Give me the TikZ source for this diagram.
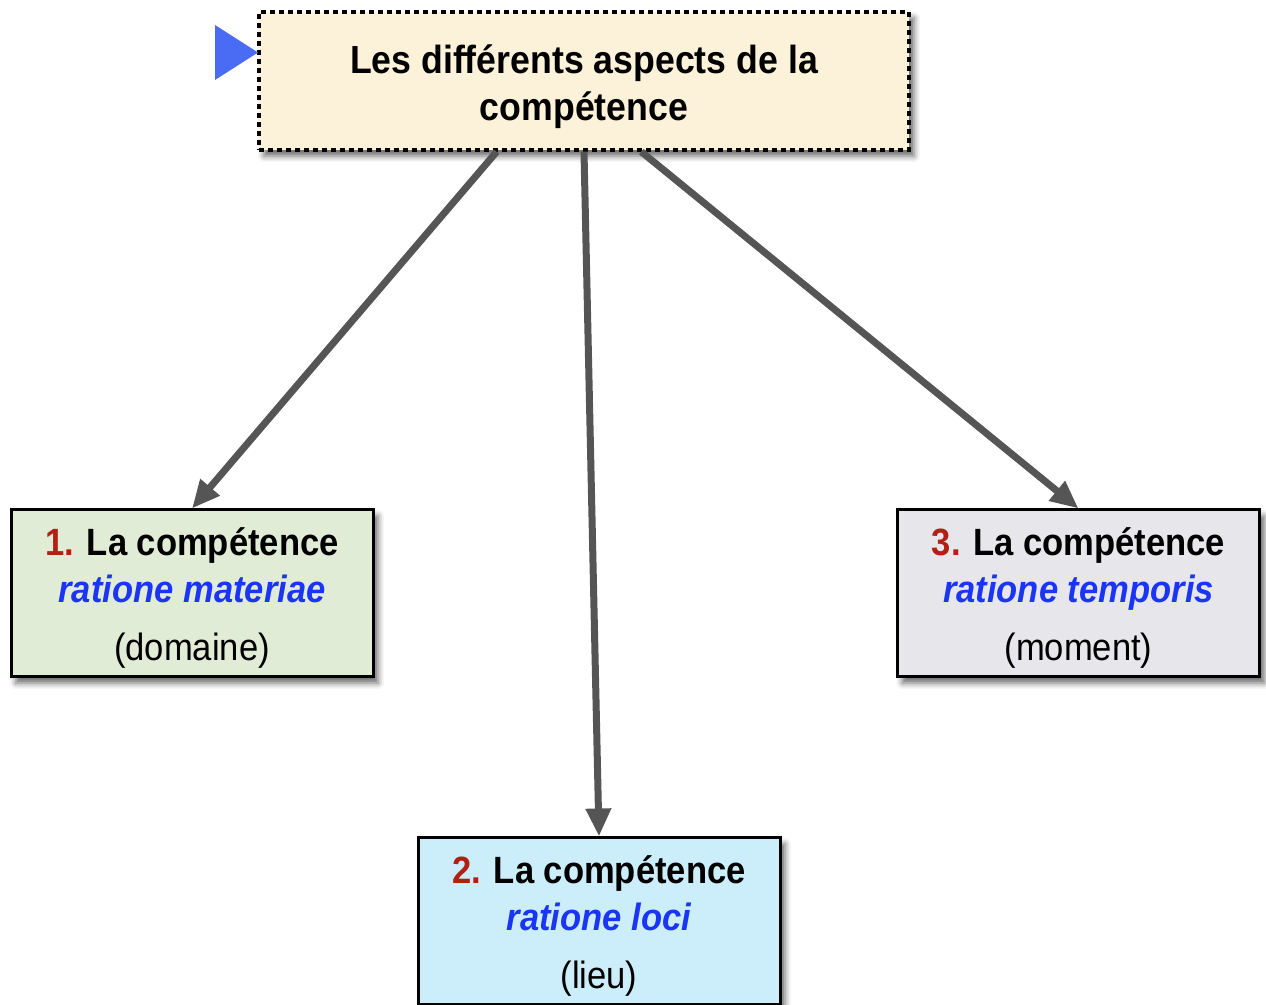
\documentclass[tikz,border=0pt]{standalone}
\usepackage{fontspec}
\setmainfont{Liberation Sans}
\newfontfamily\narrowfont{Liberation Sans}[FakeStretch=0.91]
\usepackage{tikz}
\usetikzlibrary{positioning,shadows,shadows.blur,arrows.meta}

\definecolor{titlefill}{HTML}{FCF1D9}
\definecolor{greenfill}{HTML}{E1ECD6}
\definecolor{grayfill}{HTML}{E6E6EB}
\definecolor{bluefill}{HTML}{CCEEFB}
\definecolor{numred}{HTML}{B22014}
\definecolor{latinblue}{HTML}{1A35F5}
\definecolor{edgegray}{HTML}{555555}
\definecolor{markblue}{HTML}{4A6CF5}

\newcommand\nr[1]{{\color{numred}#1}}
\newcommand\lat[1]{{\color{latinblue}\itshape #1}}

\tikzset{
	>={Triangle[length=14pt,width=12pt]},
	dedge/.style={arrows=->, draw=edgegray, line width=3.5pt},
	nrect/.style={rectangle, draw=black, line width=1.5pt, align=center,
		minimum width=181pt, minimum height=83.5pt, inner sep=0pt,
		font=\narrowfont\fontsize{19}{23.5}\selectfont,
		blur shadow={shadow xshift=2.5pt, shadow yshift=-3pt, shadow blur radius=3pt, shadow opacity=60}},
}

\begin{document}
\begin{tikzpicture}[x=0.5pt, y=-0.5pt]
	\tikzstyle{titlebox}=[nrect, fill=titlefill, dash pattern=on 2.5pt off 2pt,
		line width=1.7pt, minimum width=325pt, minimum height=69pt,
		font=\narrowfont\bfseries\fontsize{19.6}{23.5}\selectfont]
	\useasboundingbox (0,0) rectangle (1266,1005);
	
	\node[titlebox] (top) at (584,81) {\rule{0pt}{20pt}Les différents aspects de la\\compétence};
	\fill[markblue] (215,25) -- (258,52.5) -- (215,80) -- cycle;
	
	\node[nrect, fill=greenfill] (materiae) at (192,593.5)
		{\rule{0pt}{18pt}\bfseries\nr{1.} La compétence\\\bfseries\lat{ratione materiae}\\[5.5pt](domaine)};
	\node[nrect, fill=grayfill] (temporis) at (1078.5,593.5)
		{\rule{0pt}{18pt}\bfseries\nr{3.} La compétence\\\bfseries\lat{ratione temporis}\\[5.5pt](moment)};
	\node[nrect, fill=bluefill] (loci) at (599,921.5)
		{\rule{0pt}{18pt}\bfseries\nr{2.} La compétence\\\bfseries\lat{ratione loci}\\[5.5pt](lieu)};
	
	\foreach \ang/\dst in {219/materiae,270/loci,309/temporis}
	\path (top.\ang) edge [dedge] (\dst.north);
\end{tikzpicture}
\end{document}
